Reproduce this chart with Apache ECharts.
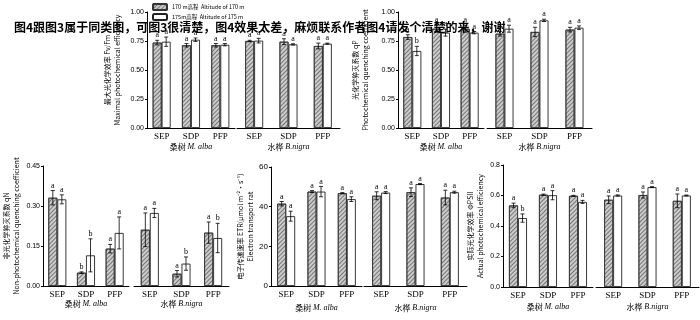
<!DOCTYPE html>
<html>
<head>
<meta charset="utf-8">
<script src="https://cdn.jsdelivr.net/npm/echarts@6/dist/echarts.min.js"></script>
<style>
  html, body { margin: 0; padding: 0; background: #fff; }
  #chart { width: 700px; height: 320px; }
</style>
</head>
<body>
<div id="chart"></div>
<script>
const categories = ['SEP', 'SDP', 'PFP']
const speciesCn = ['桑树', '水桦']
const speciesLatin = ['M. alba', 'B.nigra']
const seriesNames = ['170 m高程  Altitude of 170 m', '175m高程  Altitude of 175 m']
const note = '图4跟图3属于同类图，可图3很清楚，图4效果太差，麻烦联系作者图4请发个清楚的来，谢谢'

// order in every array: M. alba SEP, SDP, PFP, then B. nigra SEP, SDP, PFP
const fvfm170 = [0.736, 0.713, 0.713, 0.750, 0.744, 0.707]
const fvfm175 = [0.744, 0.761, 0.718, 0.753, 0.721, 0.727]
const fvfmErr170 = [0.02, 0.015, 0.015, 0.006, 0.025, 0.025]
const fvfmErr175 = [0.04, 0.015, 0.01, 0.02, 0.005, 0.005]
const fvfmSig170 = ['a', 'a', 'a', 'a', 'a', 'a']
const fvfmSig175 = ['a', 'a', 'a', 'a', 'a', 'a']

const qp170 = [0.784, 0.856, 0.856, 0.813, 0.828, 0.848]
const qp175 = [0.664, 0.822, 0.822, 0.856, 0.928, 0.865]
const qpErr170 = [0.02, 0.03, 0.03, 0.02, 0.04, 0.02]
const qpErr175 = [0.04, 0.03, 0.01, 0.03, 0.01, 0.015]
const qpSig170 = ['a', 'a', 'a', 'a', 'a', 'a']
const qpSig175 = ['b', 'a', 'a', 'a', 'a', 'a']

const qn170 = [0.331, 0.05, 0.14, 0.211, 0.046, 0.2]
const qn175 = [0.325, 0.115, 0.199, 0.274, 0.084, 0.18]
const qnErr170 = [0.027, 0.003, 0.016, 0.063, 0.012, 0.04]
const qnErr175 = [0.017, 0.062, 0.06, 0.017, 0.025, 0.055]
const qnSig170 = ['a', 'b', 'a', 'a', 'a', 'a']
const qnSig175 = ['a', 'b', 'a', 'a', 'b', 'b']

const etr170 = [41.5, 47.6, 46.8, 45.5, 47.3, 44.6]
const etr175 = [35.2, 47.6, 43.8, 47.1, 51.4, 47.3]
const etrErr170 = [1.1, 0.5, 0.3, 2, 2.2, 3.7]
const etrErr175 = [2.5, 2.6, 1.2, 0.5, 0.3, 0.5]
const etrSig170 = ['a', 'a', 'a', 'a', 'a', 'a']
const etrSig175 = ['a', 'a', 'a', 'a', 'a', 'a']

const phi170 = [0.535, 0.605, 0.598, 0.572, 0.603, 0.565]
const phi175 = [0.452, 0.602, 0.558, 0.6, 0.655, 0.6]
const phiErr170 = [0.015, 0.004, 0.003, 0.025, 0.02, 0.045]
const phiErr175 = [0.027, 0.03, 0.01, 0.004, 0.003, 0.003]
const phiSig170 = ['a', 'a', 'a', 'a', 'a', 'a']
const phiSig175 = ['b', 'a', 'a', 'a', 'a', 'a']

// panel layout: grid a = M. alba, grid b = B. nigra
const panels = [
  { v: [fvfm170, fvfm175], e: [fvfmErr170, fvfmErr175], s: [fvfmSig170, fvfmSig175],
    max: 1, interval: 0.25, digits: 2, top: 12, height: 116, a: [147, 88], b: [237, 103],
    nameGap: 25, spGap: 15, labelSize: 7,
    yName: '最大光化学效率 Fv/Fm\nMaximal photochemical efficiency' },
  { v: [qp170, qp175], e: [qpErr170, qpErr175], s: [qpSig170, qpSig175],
    max: 1, interval: 0.25, digits: 2, top: 12, height: 116, a: [398, 86], b: [487, 105],
    nameGap: 28, spGap: 15, labelSize: 7,
    yName: '光化学猝灭系数 qP\nPhotochemical quenching coefficient' },
  { v: [qn170, qn175], e: [qnErr170, qnErr175], s: [qnSig170, qnSig175],
    max: 0.45, interval: 0.15, digits: 2, top: 166, height: 120, a: [41, 88], b: [134, 95],
    nameGap: 22, spGap: 14, labelSize: 7,
    yName: '非光化学猝灭系数 qN\nNon-photochemical quenching coefficient' },
  { v: [etr170, etr175], e: [etrErr170, etrErr175], s: [etrSig170, etrSig175],
    max: 60, interval: 20, digits: 0, top: 167, height: 119, a: [271, 91], b: [364, 103],
    nameGap: 16, spGap: 18, labelSize: 8,
    yName: '电子传递速率 ETR(μmol m⁻²·s⁻¹)\nElectron transport rat' },
  { v: [phi170, phi175], e: [phiErr170, phiErr175], s: [phiSig170, phiSig175],
    max: 0.8, interval: 0.2, digits: 1, top: 165, height: 122, a: [503, 90], b: [596, 103],
    nameGap: 18, spGap: 16, labelSize: 7,
    yName: '实际光化学效率 ΦPSII\nActual photochemical efficiency' }
]

const BAR_W = 9

const hatchStyle = {
  color: '#cccccc',
  borderColor: '#333',
  borderWidth: 0.8,
  decal: {
    symbol: 'rect',
    symbolSize: 1,
    dashArrayX: [1, 0],
    dashArrayY: [1, 2],
    rotation: -Math.PI / 4,
    color: 'rgba(60,60,60,0.6)'
  }
}
const whiteStyle = { color: '#fff', borderColor: '#222', borderWidth: 0.9 }

const makeErr = (offset, letters) => (params, api) => {
  const i = api.value(0)
  const v = api.value(1)
  const e = api.value(2)
  const hi = api.coord([i, v + e])
  const lo = api.coord([i, v - e])
  const x = hi[0] + offset
  const style = { stroke: '#000', lineWidth: 0.8 }
  return {
    type: 'group',
    children: [
      { type: 'line', shape: { x1: x, y1: hi[1], x2: x, y2: lo[1] }, style },
      { type: 'line', shape: { x1: x - 2, y1: hi[1], x2: x + 2, y2: hi[1] }, style },
      { type: 'line', shape: { x1: x - 2, y1: lo[1], x2: x + 2, y2: lo[1] }, style },
      { type: 'text', x: x, y: hi[1] - 1,
        style: { text: letters[params.dataIndex], fill: '#000', fontSize: 8,
          fontFamily: 'Liberation Serif', align: 'center', verticalAlign: 'bottom' } }
    ]
  }
}

const grid = []
const xAxis = []
const yAxis = []
const series = []

panels.forEach(p => {
  [0, 1].forEach(h => {
    const g = grid.length
    const box = h === 0 ? p.a : p.b
    grid.push({ left: box[0], width: box[1], top: p.top, height: p.height })
    xAxis.push({
      type: 'category',
      gridIndex: g,
      data: categories,
      axisLine: { lineStyle: { color: '#000', width: 1 } },
      axisTick: { show: false },
      axisLabel: { color: '#000', fontSize: 9, fontFamily: 'Liberation Serif', margin: 4 },
      name: speciesCn[h] + ' {i|' + speciesLatin[h] + '}',
      nameLocation: 'middle',
      nameGap: p.spGap,
      nameTextStyle: {
        color: '#000', fontSize: 8, fontFamily: 'Noto Sans CJK SC',
        rich: { i: { fontStyle: 'italic', fontFamily: 'Liberation Serif', fontSize: 8 } }
      }
    })
    yAxis.push({
      type: 'value',
      gridIndex: g,
      min: 0,
      max: p.max,
      interval: p.interval,
      show: h === 0,
      axisLine: { show: true, lineStyle: { color: '#000', width: 1 } },
      axisTick: { show: true, length: 2, lineStyle: { color: '#000' } },
      splitLine: { show: false },
      axisLabel: {
        color: '#000', fontSize: p.labelSize, fontFamily: 'Liberation Sans', margin: 3,
        formatter: val => val.toFixed(p.digits)
      },
      name: h === 0 ? p.yName : '',
      nameLocation: 'middle',
      nameRotate: 90,
      nameGap: p.nameGap,
      nameTextStyle: { color: '#000', fontSize: 7, fontFamily: 'Noto Sans CJK SC', lineHeight: 10 }
    })
    const vals = [0, 1].map(k => p.v[k].slice(h * 3, h * 3 + 3))
    const errs = [0, 1].map(k => p.e[k].slice(h * 3, h * 3 + 3))
    const sigs = [0, 1].map(k => p.s[k].slice(h * 3, h * 3 + 3))
    series.push({
      type: 'bar', name: seriesNames[0], xAxisIndex: g, yAxisIndex: g,
      data: vals[0], barWidth: BAR_W, barGap: '0%', itemStyle: hatchStyle, silent: true
    })
    series.push({
      type: 'bar', name: seriesNames[1], xAxisIndex: g, yAxisIndex: g,
      data: vals[1], barWidth: BAR_W, barGap: '0%', itemStyle: whiteStyle, silent: true
    })
    ;[0, 1].forEach(k => {
      series.push({
        type: 'custom', xAxisIndex: g, yAxisIndex: g, z: 5, silent: true,
        encode: { x: 0, y: 1 },
        data: vals[k].map((v, i) => [i, v, errs[k][i]]),
        renderItem: makeErr(k === 0 ? -BAR_W / 2 : BAR_W / 2, sigs[k])
      })
    })
  })
})

const chart = echarts.init(document.getElementById('chart'))
chart.setOption({
  animation: false,
  backgroundColor: '#fff',
  legend: {
    data: seriesNames,
    orient: 'vertical',
    left: 152,
    top: 3,
    padding: 0,
    itemWidth: 14,
    itemHeight: 6,
    itemGap: 2,
    selectedMode: false,
    textStyle: { fontSize: 5.5, color: '#000', fontFamily: 'Noto Sans CJK SC' }
  },
  grid,
  xAxis,
  yAxis,
  series,
  graphic: [{
    type: 'text',
    left: 14,
    top: 21,
    z: 100,
    style: { text: note, fontSize: 12, fontWeight: 'bold', fill: '#000', fontFamily: 'Noto Sans CJK SC' }
  }]
})

window.addEventListener('resize', () => chart.resize())
</script>
</body>
</html>
